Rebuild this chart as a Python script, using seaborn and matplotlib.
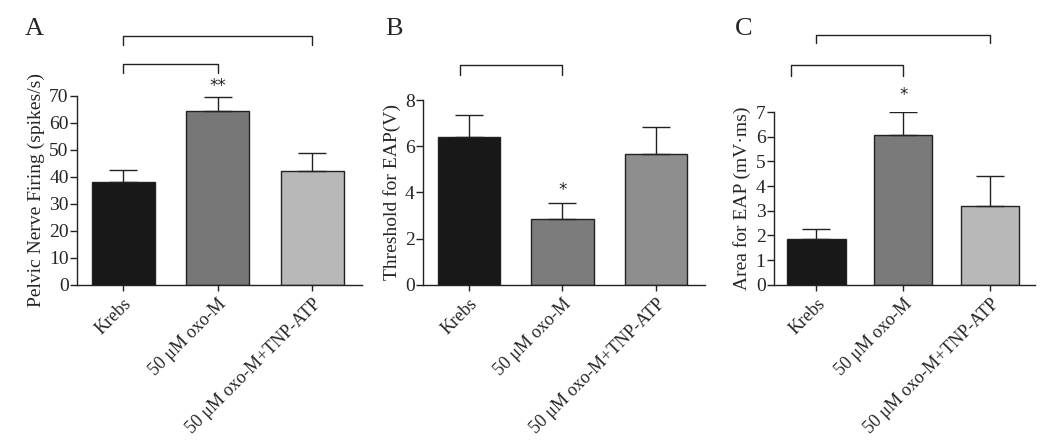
import numpy as np
import pandas as pd
import matplotlib
matplotlib.use('Agg')
import matplotlib.pyplot as plt
import seaborn as sns

sns.set_style('ticks')
plt.rcParams['font.family'] = ['Liberation Serif', 'DejaVu Serif']

groups = ['Krebs', '50 \u03bcM oxo-M', '50 \u03bcM oxo-M+TNP-ATP']

# Panel A - pelvic nerve firing
firing_mean = [38.0, 64.5, 42.0]
firing_err = [4.5, 5.0, 7.0]
# Panel B - threshold for EAP
threshold_mean = [6.4, 2.85, 5.65]
threshold_err = [0.95, 0.7, 1.2]
# Panel C - area for EAP
area_mean = [1.85, 6.05, 3.2]
area_err = [0.4, 0.95, 1.2]

panels = [
    dict(letter='A', lx=0.024, mean=firing_mean, err=firing_err,
         ylabel='Pelvic Nerve Firing (spikes/s)', ylim=70, ystep=10,
         colors=['#181818', '#777777', '#b8b8b8'],
         pos=[0.0733, 0.354, 0.271, 0.4286],
         brackets=[(0, 2, 92.2, 88.9), (0, 1, 81.8, 78.5)],
         stars=[(1, 73.5, '**')]),
    dict(letter='B', lx=0.367, mean=threshold_mean, err=threshold_err,
         ylabel='Threshold for EAP(V)', ylim=8, ystep=2,
         colors=['#181818', '#7c7c7c', '#8e8e8e'],
         pos=[0.403, 0.354, 0.268, 0.419],
         brackets=[(-0.1, 1.0, 9.5, 9.1)],
         stars=[(1, 4.1, '*')]),
    dict(letter='C', lx=0.700, mean=area_mean, err=area_err,
         ylabel='Area for EAP (mV\u00b7ms)', ylim=7, ystep=1,
         colors=['#181818', '#7a7a7a', '#b8b8b8'],
         pos=[0.737, 0.354, 0.249, 0.392],
         brackets=[(0, 2, 10.12, 9.8), (-0.29, 1.0, 8.9, 8.45)],
         stars=[(1, 7.7, '*')]),
]

fig = plt.figure(figsize=(10.5, 4.41), dpi=100)

for p in panels:
    ax = fig.add_axes(p['pos'])
    df = pd.DataFrame({'group': groups, 'value': p['mean']})
    sns.barplot(data=df, x='group', y='value', hue='group', palette=p['colors'],
                errorbar=None, width=0.67, edgecolor='#222222', linewidth=1.0,
                legend=False, ax=ax)
    ax.errorbar(np.arange(3), p['mean'], yerr=[np.zeros(3), p['err']],
                fmt='none', ecolor='#222222', elinewidth=1.0, capsize=10,
                capthick=1.0)
    ax.set_xlim(-0.49, 2.52)
    ax.set_ylim(0, p['ylim'])
    ax.set_yticks(np.arange(0, p['ylim'] + 0.01, p['ystep']))
    ax.set_xlabel('')
    ax.set_ylabel(p['ylabel'], fontsize=14, labelpad=3)
    ax.tick_params(axis='y', labelsize=14, length=5, width=1, color='#222222', pad=1)
    ax.tick_params(axis='x', labelsize=13, length=4, width=1, color='#222222')
    plt.setp(ax.get_xticklabels(), rotation=45, ha='right', rotation_mode='anchor')
    sns.despine(ax=ax)
    for s in ['left', 'bottom']:
        ax.spines[s].set_color('#222222')
        ax.spines[s].set_linewidth(1.0)

    for x0, x1, ytop, ybot in p['brackets']:
        ax.plot([x0, x0, x1, x1], [ybot, ytop, ytop, ybot], color='#222222',
                lw=1.0, clip_on=False)
    for x, y, s in p['stars']:
        ax.text(x, y, s, ha='center', va='center', fontsize=12,
                family='DejaVu Sans')

    fig.text(p['lx'], 0.935, p['letter'], fontsize=19, ha='left', va='center')

fig.savefig('out.png', dpi=100)
